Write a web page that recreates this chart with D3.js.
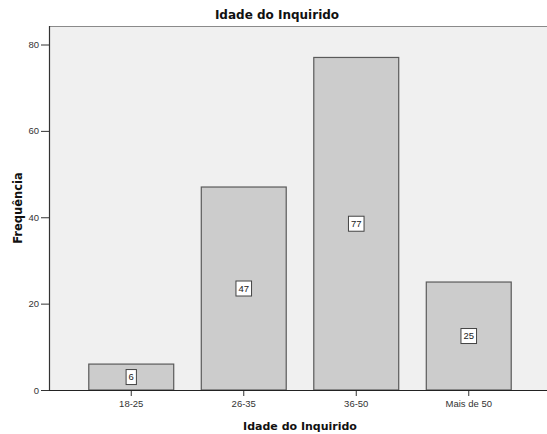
<!DOCTYPE html>
<html>
<head>
<meta charset="utf-8">
<script src="https://cdn.jsdelivr.net/npm/d3@7"></script>
<style>
  html, body { margin: 0; padding: 0; background: #ffffff; }
  svg { display: block; font-family: "Liberation Sans", Arial, sans-serif; }
  .title { font-family: "DejaVu Sans", sans-serif; font-weight: bold; fill: #111; }
</style>
</head>
<body>
<svg id="chart" width="547" height="434"></svg>
<script>
// Age groups of respondents and their counts
const categories = ["18-25", "26-35", "36-50", "Mais de 50"];
const frequencies = [6, 47, 77, 25];
const yTicks = [0, 20, 40, 60, 80];

const chartTitle = "Idade do Inquirido";
const xTitle = "Idade do Inquirido";
const yTitle = "Frequência";

const plot = { left: 49, top: 26, right: 547, bottom: 390 };

const svg = d3.select("#chart");

const x = d3.scaleBand()
  .domain(categories)
  .range([75, 525])
  .paddingInner(0.245)
  .paddingOuter(0.1225);

const y = d3.scaleLinear()
  .domain([0, 80])
  .range([390, 44.5]);

// plot background
svg.append("rect")
  .attr("x", plot.left).attr("y", plot.top)
  .attr("width", plot.right - plot.left)
  .attr("height", plot.bottom - plot.top)
  .attr("fill", "#f0f0f0");

// top frame line
svg.append("line")
  .attr("x1", plot.left).attr("x2", plot.right)
  .attr("y1", plot.top + 0.5).attr("y2", plot.top + 0.5)
  .attr("stroke", "#8a8a8a").attr("stroke-width", 1);

// bars
svg.append("g").selectAll("rect")
  .data(frequencies)
  .join("rect")
  .attr("x", (d, i) => x(categories[i]))
  .attr("y", d => y(d))
  .attr("width", x.bandwidth())
  .attr("height", d => y(0) - y(d))
  .attr("fill", "#cccccc")
  .attr("stroke", "#5a5a5a")
  .attr("stroke-width", 1.2);

// value labels in boxes
const labels = svg.append("g").selectAll("g")
  .data(frequencies)
  .join("g")
  .attr("transform", (d, i) =>
    `translate(${x(categories[i]) + x.bandwidth() / 2},${(y(d) + y(0)) / 2})`);

labels.append("text")
  .attr("text-anchor", "middle")
  .attr("dy", "0.35em")
  .attr("font-size", 9.5)
  .attr("fill", "#222")
  .text(d => d)
  .each(function () {
    const bb = this.getBBox();
    d3.select(this.parentNode).insert("rect", "text")
      .attr("x", bb.x - 2.5)
      .attr("y", -7.5)
      .attr("width", bb.width + 5)
      .attr("height", 15)
      .attr("fill", "#ffffff")
      .attr("stroke", "#444")
      .attr("stroke-width", 1);
  });

// y axis
const yAxis = svg.append("g")
  .attr("transform", `translate(${plot.left},0)`)
  .call(d3.axisLeft(y).tickValues(yTicks).tickSize(8).tickPadding(2).tickFormat(d3.format("d")));
yAxis.select(".domain").remove();
yAxis.selectAll(".tick line").attr("stroke", "#333");
yAxis.selectAll(".tick text")
  .attr("font-size", 9.5)
  .attr("fill", "#333")
  .attr("font-family", "Liberation Sans, Arial, sans-serif");

svg.append("line")
  .attr("x1", plot.left + 0.5).attr("x2", plot.left + 0.5)
  .attr("y1", plot.top).attr("y2", plot.bottom)
  .attr("stroke", "#333").attr("stroke-width", 1.2);

// x axis
const xAxis = svg.append("g")
  .attr("transform", `translate(0,${plot.bottom})`)
  .call(d3.axisBottom(x).tickSize(6).tickPadding(4));
xAxis.select(".domain").remove();
xAxis.selectAll(".tick line").attr("stroke", "#333");
xAxis.selectAll(".tick text")
  .attr("font-size", 9.5)
  .attr("fill", "#333")
  .attr("font-family", "Liberation Sans, Arial, sans-serif");

svg.append("line")
  .attr("x1", plot.left).attr("x2", plot.right)
  .attr("y1", plot.bottom + 0.5).attr("y2", plot.bottom + 0.5)
  .attr("stroke", "#222").attr("stroke-width", 1.2);

// titles
svg.append("text")
  .attr("class", "title")
  .attr("x", 277).attr("y", 19)
  .attr("text-anchor", "middle")
  .attr("font-size", 12)
  .text(chartTitle);

svg.append("text")
  .attr("class", "title")
  .attr("x", 300).attr("y", 430)
  .attr("text-anchor", "middle")
  .attr("font-size", 11)
  .text(xTitle);

svg.append("text")
  .attr("class", "title")
  .attr("transform", "translate(22,208) rotate(-90)")
  .attr("text-anchor", "middle")
  .attr("font-size", 11.5)
  .text(yTitle);
</script>
</body>
</html>
